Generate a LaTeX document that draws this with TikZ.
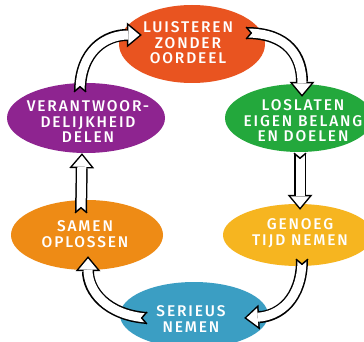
\documentclass[tikz,border=0pt]{standalone}
\usepackage{fontspec}
\usetikzlibrary{shapes.geometric,arrows.meta,calc}
\newfontfamily\kaart[LetterSpace=12, UprightFont=* Medium]{Fira Sans}
\definecolor{rood}{HTML}{E95420}
\definecolor{paars}{HTML}{8E2490}
\definecolor{groen}{HTML}{23A83C}
\definecolor{oranje}{HTML}{EE8B15}
\definecolor{geel}{HTML}{F6B520}
\definecolor{blauw}{HTML}{3B9EC3}
\tikzset{
  stap/.style={ellipse, inner sep=0pt, draw=none},
  tekst/.style={text=white, align=center, inner sep=0pt,
    font=\kaart\fontsize{15.5}{15.5}\selectfont},
  pijlrand/.style={line width=12pt, -{Triangle[length=15pt,width=25pt,line width=0pt]}},
  pijlwit/.style={white, line width=9pt, shorten >=2.3pt,
    -{Triangle[length=11.2pt,width=18.6pt,line width=0pt]}},
  kerf/.style={draw=black, line width=1.5pt, line join=miter}
}
% fat hollow arrow: black outline first, white body on top
\newcommand\pijl[1]{\draw[pijlrand] #1; \draw[pijlwit] #1;}
\begin{document}
\begin{tikzpicture}[x=1pt, y=-1pt]
\useasboundingbox[fill=white] (0,0) rectangle (364,342);
\node[stap, fill=rood, minimum width=146pt, minimum height=78pt] (luisteren) at (192,44){};
\node[stap, fill=paars, minimum width=158pt, minimum height=70pt] (delen) at (86,118){};
\node[stap, fill=groen, minimum width=148pt, minimum height=68pt] (loslaten) at (299,118){};
\node[stap, fill=oranje, minimum width=152pt, minimum height=70pt] (oplossen) at (87,235){};
\node[stap, fill=geel, minimum width=150pt, minimum height=62pt] (genoeg) at (298,235){};
\node[stap, fill=blauw, minimum width=148pt, minimum height=66pt] (serieus) at (194,315){};
\node[tekst] (luisteren-t) at ([shift={(-4,-1)}]luisteren.center){LUISTEREN\\ZONDER\\OORDEEL};
\node[tekst] (delen-t) at ([shift={(2,4)}]delen.center){VERANTWOOR-\\DELIJKHEID\\DELEN};
\node[tekst] (loslaten-t) at ([shift={(4,3)}]loslaten.center){LOSLATEN\\EIGEN BELANG\\EN DOELEN};
\node[tekst] (oplossen-t) at ([shift={(-2,-1)}]oplossen.center){SAMEN\\OPLOSSEN};
\node[tekst] (genoeg-t) at ([shift={(2,-2)}]genoeg.center){GENOEG\\TIJD NEMEN};
\node[tekst] (serieus-t) at ([shift={(-3,4)}]serieus.center){SERIEUS\\NEMEN};
% arrow tails
\coordinate (s1) at ([shift={(-6,9)}]delen.north);
\coordinate (s2) at ([shift={(-19,-11)}]luisteren.east);
\coordinate (s3) at ([shift={(1,1)}]loslaten.south);
\coordinate (s4) at ([shift={(4,-7)}]genoeg.south);
\coordinate (s5) at ([shift={(27,3)}]serieus.west);
\coordinate (s6) at ([shift={(-6,13)}]oplossen.north);
\pijl{(s1) .. controls +(0,-42) and +(-35,0) .. ([shift={(23,-9)}]luisteren.west)}
\pijl{(s2) .. controls +(42,0) and +(0,-40) .. ([shift={(3,13)}]loslaten.north)}
\pijl{(s3) -- ([shift={(2,6)}]genoeg.north)}
\pijl{(s4) .. controls +(0,40) and +(35,-2) .. ([shift={(-24,3)}]serieus.east)}
\pijl{(s5) .. controls +(-40,-3) and +(0,35) .. ([shift={(1,-14)}]oplossen.south)}
\pijl{(s6) -- ([shift={(-4,0)}]delen.south)}
% notched tails
\filldraw[kerf, fill=paars] ($(s1)+(-6,0)$) -- ($(s1)+(0,-5)$) -- ($(s1)+(6,0)$);
\filldraw[kerf, fill=rood] ($(s2)+(0,-6)$) -- ($(s2)+(5,0)$) -- ($(s2)+(0,6)$);
\filldraw[kerf, fill=white] ($(s3)+(-6,0)$) -- ($(s3)+(0,5)$) -- ($(s3)+(6,0)$);
\filldraw[kerf, fill=geel] ($(s4)+(-6,0)$) -- ($(s4)+(0,5)$) -- ($(s4)+(6,0)$);
\filldraw[kerf, fill=blauw] ($(s5)+(0,-6)$) -- ($(s5)+(-5,0)$) -- ($(s5)+(0,6)$);
\filldraw[kerf, fill=oranje] ($(s6)+(-6,0)$) -- ($(s6)+(0,-5)$) -- ($(s6)+(6,0)$);
\end{tikzpicture}
\end{document}
